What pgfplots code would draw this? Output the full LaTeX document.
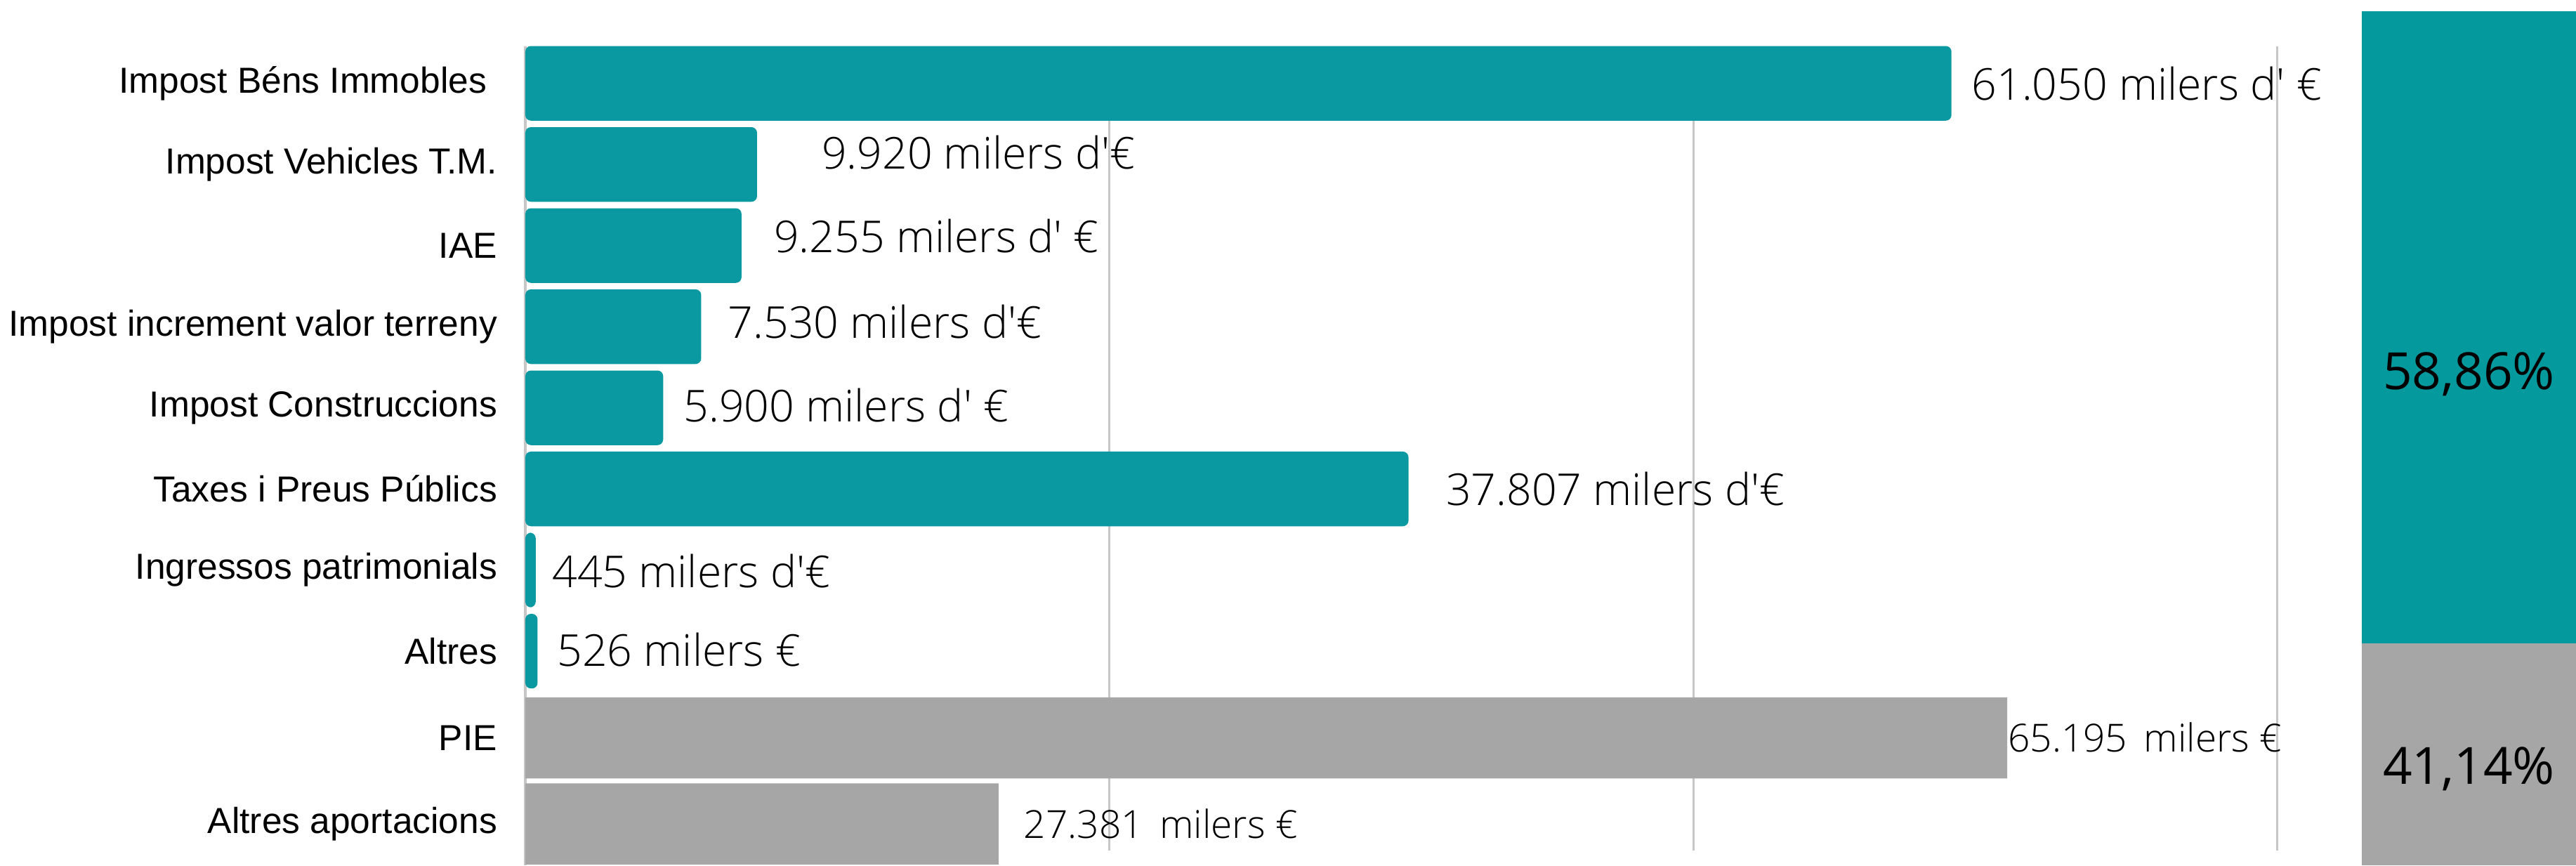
\documentclass[border=0pt]{standalone}
\usepackage{pgfplots}
\pgfplotsset{compat=1.18}
\usepackage{fontspec}
\setmainfont{Liberation Sans}
\IfFontExistsTF{Open Sans Light}
  {\newfontfamily\valfont{Open Sans Light}[Ligatures=TeXOff]}
  {\newfontfamily\valfont{Open Sans}[Ligatures=TeXOff]}
\newfontfamily\pctfont{Open Sans}
\definecolor{teal1}{RGB}{10,153,160}
\definecolor{teal2}{RGB}{4,153,157}
\definecolor{grayb}{RGB}{166,166,166}
\begin{document}
\begin{tikzpicture}
\useasboundingbox (0,0) rectangle (733.6pt,246.4pt);
\begin{axis}[
  at={(149.6pt,0pt)}, anchor=south west,
  scale only axis, width=518.9pt, height=233.3pt,
  xmin=0, xmax=78000, ymin=-0.46, ymax=9.64, y dir=reverse,
  axis y line*=left, axis x line*=bottom,
  x axis line style={draw=none},
  y axis line style={draw=black!22, line width=0.8pt, -},
  xtick=\empty,
  ytick={0,1,2,3,4,5,6,7,8.07,9.13},
  yticklabels={Impost Béns Immobles\hspace*{3pt},Impost Vehicles T.M.,IAE,Impost increment valor terreny,Impost Construccions,Taxes i Preus Públics,Ingressos patrimonials,Altres,PIE,Altres aportacions},
  yticklabel style={font=\fontsize{10.3}{12}\selectfont, inner sep=0pt, xshift=-7.8pt},
  major tick length=0pt,
]
% vertical grid lines at 25000, 50000, 75000
\addplot[forget plot, no markers, draw=black!22, line width=0.6pt] coordinates {(25000,-0.46) (25000,9.46)};
\addplot[forget plot, no markers, draw=black!22, line width=0.6pt] coordinates {(50000,-0.46) (50000,9.46)};
\addplot[forget plot, no markers, draw=black!22, line width=0.6pt] coordinates {(75000,-0.46) (75000,9.46)};
\addplot[xbar, bar shift=0pt, fill=teal1, draw=none, bar width=0.92, rounded corners=1.6pt] coordinates {(61050,0) (9920,1) (9255,2) (7530,3) (5900,4) (37807,5) (445,6) (526,7)};
\addplot[xbar, bar shift=0pt, fill=grayb, draw=none, bar width=1.0] coordinates {(63440,8.07) (20256,9.13)};
\begin{scope}[every node/.style={anchor=west, inner sep=0pt, font=\valfont\fontsize{12.5}{14}\selectfont}]
\node at (axis cs:61893,0) {61.050 milers d' €};
\node at (axis cs:12660,0.85) {9.920 milers d'€};
\node at (axis cs:10620,1.88) {9.255 milers d' €};
\node at (axis cs:8651,2.94) {7.530 milers d'€};
\node at (axis cs:6752,3.97) {5.900 milers d' €};
\node at (axis cs:39386,5.0) {37.807 milers d'€};
\node at (axis cs:1125,6.01) {445 milers d'€};
\node at (axis cs:1336,6.98) {526 milers €};
\end{scope}
\begin{scope}[every node/.style={anchor=west, inner sep=0pt, font=\valfont\fontsize{11}{13}\selectfont}]
\node at (axis cs:63440,8.06) {65.195\, milers €};
\node at (axis cs:21310,9.13) {27.381\, milers €};
\end{scope}
\end{axis}
\begin{axis}[
  at={(672.6pt,0pt)}, anchor=south west,
  scale only axis, width=61pt, height=243.2pt,
  xmin=-0.5, xmax=0.5, ymin=20.5, ymax=100,
  hide axis, ybar stacked, bar width=1,
]
\addplot[fill=grayb, draw=none] coordinates {(0,41.14)};
\addplot[fill=teal2, draw=none] coordinates {(0,58.86)};
\coordinate (pa) at (axis cs:0,66.2);
\coordinate (pb) at (axis cs:0,29.5);
\end{axis}
\node[font=\pctfont\fontsize{14.6}{17}\selectfont, inner sep=0pt, text=black] at (pa) {58,86\%};
\node[font=\pctfont\fontsize{14.6}{17}\selectfont, inner sep=0pt, text=black] at (pb) {41,14\%};
\end{tikzpicture}
\end{document}
